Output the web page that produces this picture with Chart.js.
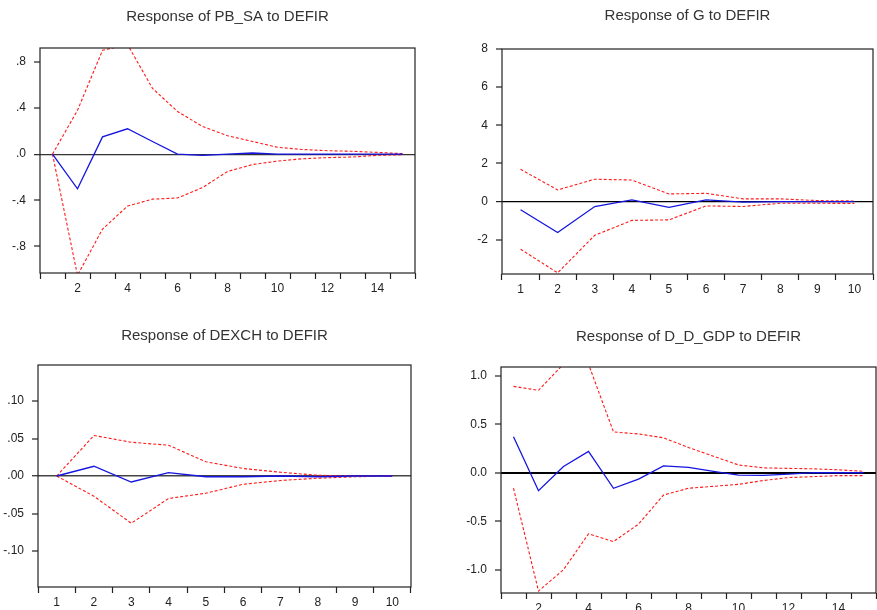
<!DOCTYPE html>
<html>
<head>
<meta charset="utf-8">
<script src="https://cdn.jsdelivr.net/npm/chart.js@4"></script>
<style>
  html, body { margin: 0; padding: 0; background: #fff; overflow: hidden; }
  body { width: 877px; height: 610px; position: relative; }
  .panel { position: absolute; }
</style>
</head>
<body>
<div class="panel" style="left:0px;top:0px;width:440px;height:300px"><canvas id="c1"></canvas></div>
<div class="panel" style="left:440px;top:0px;width:437px;height:300px"><canvas id="c2"></canvas></div>
<div class="panel" style="left:0px;top:310px;width:440px;height:300px"><canvas id="c3"></canvas></div>
<div class="panel" style="left:440px;top:310px;width:437px;height:310px"><canvas id="c4"></canvas></div>
<script>
// periods
const periods15 = [1, 2, 3, 4, 5, 6, 7, 8, 9, 10, 11, 12, 13, 14, 15];
const periods10 = [1, 2, 3, 4, 5, 6, 7, 8, 9, 10];

// Response of PB_SA to DEFIR
const pbResp  = [0.0, -0.30, 0.15, 0.22, 0.11, 0.0, -0.01, 0.0, 0.01, 0.0, 0.0, 0.0, 0.0, 0.0, 0.0];
const pbUpper = [0.0, 0.38, 0.90, 0.95, 0.57, 0.37, 0.24, 0.16, 0.11, 0.06, 0.04, 0.03, 0.025, 0.015, 0.005];
const pbLower = [0.0, -1.05, -0.65, -0.45, -0.39, -0.38, -0.29, -0.15, -0.09, -0.06, -0.04, -0.03, -0.025, -0.01, -0.005];
const pbTicks = [0.8, 0.4, 0.0, -0.4, -0.8];
const pbTickLabels = ['.8', '.4', '.0', '-.4', '-.8'];

// Response of G to DEFIR
const gResp  = [-0.43, -1.62, -0.26, 0.09, -0.30, 0.09, -0.03, 0.0, 0.0, 0.0];
const gUpper = [1.69, 0.61, 1.17, 1.13, 0.40, 0.43, 0.14, 0.14, 0.05, 0.03];
const gLower = [-2.5, -3.74, -1.77, -0.99, -0.96, -0.23, -0.26, -0.09, -0.09, -0.10];
const gTicks = [8, 6, 4, 2, 0, -2];
const gTickLabels = ['8', '6', '4', '2', '0', '-2'];

// Response of DEXCH to DEFIR
const dexResp  = [0.0, 0.013, -0.008, 0.0045, -0.001, -0.001, 0.0, -0.001, 0.0, 0.0];
const dexUpper = [0.0, 0.054, 0.045, 0.041, 0.019, 0.010, 0.005, 0.001, 0.0, 0.0];
const dexLower = [0.0, -0.027, -0.063, -0.030, -0.023, -0.011, -0.006, -0.003, -0.001, 0.0];
const dexTicks = [0.10, 0.05, 0.0, -0.05, -0.10];
const dexTickLabels = ['.10', '.05', '.00', '-.05', '-.10'];

// Response of D_D_GDP to DEFIR
const gdpResp  = [0.37, -0.185, 0.065, 0.22, -0.16, -0.065, 0.07, 0.055, 0.014, -0.024, -0.027, -0.014, 0.0, 0.0, 0.0];
const gdpUpper = [0.89, 0.85, 1.12, 1.12, 0.42, 0.40, 0.36, 0.26, 0.17, 0.08, 0.05, 0.045, 0.04, 0.03, 0.015];
const gdpLower = [-0.16, -1.22, -1.0, -0.63, -0.71, -0.53, -0.23, -0.16, -0.14, -0.12, -0.08, -0.05, -0.04, -0.03, -0.03];
const gdpTicks = [1.0, 0.5, 0.0, -0.5, -1.0];
const gdpTickLabels = ['1.0', '0.5', '0.0', '-0.5', '-1.0'];

const FONT = "'Liberation Sans', Arial, sans-serif";

// title centred over the plot + frame round the plot
const framePlugin = {
    id: 'frame',
    afterDraw(chart, args, opts) {
        const a = chart.chartArea;
        const c = chart.ctx;
        c.save();
        c.strokeStyle = '#222';
        c.lineWidth = 1.2;
        c.strokeRect(a.left, a.top, a.right - a.left, a.bottom - a.top);
        c.fillStyle = '#333';
        c.font = '15px ' + FONT;
        c.textAlign = 'center';
        c.textBaseline = 'middle';
        c.fillText(opts.title, (a.left + a.right) / 2, opts.titleY);
        c.restore();
    }
};

function makePanel(id, cfg) {
    const ctx = document.getElementById(id).getContext('2d');
    return new Chart(ctx, {
        type: 'line',
        data: {
            labels: cfg.labels,
            datasets: [
                {
                    data: cfg.resp,
                    borderColor: '#1515e0',
                    borderWidth: 1.3,
                    pointRadius: 0,
                    tension: 0,
                },
                {
                    data: cfg.upper,
                    borderColor: '#ff1a1a',
                    borderWidth: 1.1,
                    borderDash: [3, 2],
                    pointRadius: 0,
                    tension: 0,
                },
                {
                    data: cfg.lower,
                    borderColor: '#ff1a1a',
                    borderWidth: 1.1,
                    borderDash: [3, 2],
                    pointRadius: 0,
                    tension: 0,
                },
            ],
        },
        options: {
            responsive: true,
            maintainAspectRatio: false,
            animation: false,
            devicePixelRatio: 1,
            layout: { padding: { top: cfg.padTop, right: cfg.padRight, left: 0, bottom: 0 } },
            plugins: {
                legend: { display: false },
                tooltip: { enabled: false },
                frame: { title: cfg.title, titleY: cfg.titleY },
            },
            scales: {
                x: {
                    type: 'category',
                    offset: true,
                    afterFit: (s) => { s.height = cfg.xHeight; },
                    grid: {
                        offset: true,
                        drawOnChartArea: false,
                        drawTicks: true,
                        tickLength: 6,
                        tickColor: '#222',
                        tickWidth: 1.2,
                    },
                    border: { display: false },
                    ticks: {
                        autoSkip: false,
                        maxRotation: 0,
                        padding: 2,
                        color: '#222',
                        font: { family: FONT, size: 12 },
                        callback: function (v, i) {
                            const p = cfg.labels[i];
                            return (p % cfg.labelEvery === 0) ? String(p) : '';
                        },
                    },
                },
                y: {
                    min: cfg.min,
                    max: cfg.max,
                    afterFit: (s) => { s.width = cfg.yWidth; },
                    afterBuildTicks: (s) => { s.ticks = cfg.ticks.map(v => ({ value: v })); },
                    grid: {
                        drawTicks: true,
                        tickLength: 6,
                        tickColor: '#222',
                        tickWidth: 1.2,
                        color: (c) => (c.tick && Math.abs(c.tick.value) < 1e-9) ? cfg.zeroColor : 'rgba(0,0,0,0)',
                        lineWidth: (c) => (c.tick && Math.abs(c.tick.value) < 1e-9) ? cfg.zeroWidth : 0,
                    },
                    border: { display: false },
                    ticks: {
                        padding: 8,
                        color: '#222',
                        font: { family: FONT, size: 12 },
                        callback: function (v) {
                            const k = cfg.ticks.findIndex(t => Math.abs(t - v) < 1e-9);
                            return k >= 0 ? cfg.tickLabels[k] : '';
                        },
                    },
                },
            },
        },
        plugins: [framePlugin],
    });
}

makePanel('c1', {
    title: 'Response of PB_SA to DEFIR', titleY: 17,
    labels: periods15, labelEvery: 2,
    resp: pbResp, upper: pbUpper, lower: pbLower,
    ticks: pbTicks, tickLabels: pbTickLabels, min: -1.03, max: 0.92,
    padTop: 48, padRight: 25, yWidth: 40, xHeight: 27,
    zeroColor: '#333', zeroWidth: 1.3,
});

makePanel('c2', {
    title: 'Response of G to DEFIR', titleY: 16,
    labels: periods10, labelEvery: 1,
    resp: gResp, upper: gUpper, lower: gLower,
    ticks: gTicks, tickLabels: gTickLabels, min: -3.8, max: 8,
    padTop: 49, padRight: 4, yWidth: 62, xHeight: 26,
    zeroColor: '#000', zeroWidth: 1.2,
});

makePanel('c3', {
    title: 'Response of DEXCH to DEFIR', titleY: 26,
    labels: periods10, labelEvery: 1,
    resp: dexResp, upper: dexUpper, lower: dexLower,
    ticks: dexTicks, tickLabels: dexTickLabels, min: -0.148, max: 0.148,
    padTop: 55, padRight: 29, yWidth: 38, xHeight: 23,
    zeroColor: '#444', zeroWidth: 1.5,
});

makePanel('c4', {
    title: 'Response of D_D_GDP to DEFIR', titleY: 27,
    labels: periods15, labelEvery: 2,
    resp: gdpResp, upper: gdpUpper, lower: gdpLower,
    ticks: gdpTicks, tickLabels: gdpTickLabels, min: -1.24, max: 1.09,
    padTop: 57, padRight: 1, yWidth: 61, xHeight: 27,
    zeroColor: '#000', zeroWidth: 2,
});
</script>
</body>
</html>
